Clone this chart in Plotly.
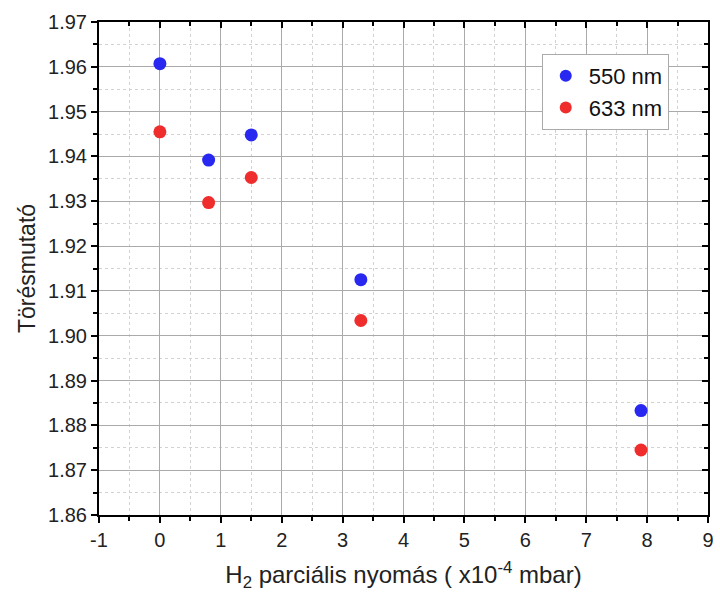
import plotly.graph_objects as go

x_vals = [0, 0.8, 1.5, 3.3, 7.9]
n550 = [1.9607, 1.9392, 1.9448, 1.9125, 1.8833]
n633 = [1.9455, 1.9297, 1.9353, 1.9034, 1.8745]
series_names = ["550 nm", "633 nm"]
x_ticks = list(range(-1, 10))
x_ticktext = [str(v) for v in x_ticks]
y_ticks = [round(1.86 + 0.01 * i, 2) for i in range(12)]
y_ticktext = [f"{v:.2f}" for v in y_ticks]

fig = go.Figure()
fig.add_trace(go.Scatter(x=x_vals, y=n550, mode="markers", name=series_names[0],
                         marker=dict(size=13, color="rgb(40,40,240)")))
fig.add_trace(go.Scatter(x=x_vals, y=n633, mode="markers", name=series_names[1],
                         marker=dict(size=13, color="rgb(240,45,45)")))

font = "Liberation Sans, Arial, sans-serif"
common = dict(showline=True, linecolor="black", linewidth=2, zeroline=False,
              ticklen=6, tickwidth=2, tickcolor="black",
              tickfont=dict(size=20, color="#222", family=font))

fig.update_layout(
    width=720, height=597,
    margin=dict(l=99, r=6, t=22, b=82),
    plot_bgcolor="white", paper_bgcolor="white",
    font=dict(family=font, color="#222"),
    xaxis=dict(range=[-1, 9], tickvals=x_ticks, ticktext=x_ticktext, ticks="outside",
               showgrid=True, gridcolor="#aaaaaa", gridwidth=1,
               minor=dict(dtick=0.5, ticks="outside", ticklen=4, tickwidth=2, tickcolor="black",
                          showgrid=True, gridcolor="#d2d2d2", griddash="3px,3px", gridwidth=1),
               title=dict(text="H<sub>2</sub> parciális nyomás ( x10<sup>-4</sup> mbar)",
                          font=dict(size=24, color="#222"), standoff=16),
               **common),
    yaxis=dict(range=[1.86, 1.97], tickvals=y_ticks, ticktext=y_ticktext, ticks="outside",
               showgrid=True, gridcolor="#aaaaaa", gridwidth=1,
               minor=dict(dtick=0.005, ticks="outside", ticklen=4, tickwidth=2, tickcolor="black",
                          showgrid=True, gridcolor="#d2d2d2", griddash="3px,3px", gridwidth=1),
               title=dict(text="Törésmutató", font=dict(size=23, color="#222"), standoff=6),
               **common),
    xaxis2=dict(overlaying="x", side="top", matches="x", range=[-1, 9], tickvals=x_ticks,
                ticks="inside", showticklabels=False, showgrid=False, zeroline=False,
                minor=dict(dtick=0.5, ticks="inside", ticklen=4, tickwidth=2, tickcolor="black",
                           showgrid=False),
                showline=True, linecolor="black", linewidth=2, ticklen=6, tickwidth=2, tickcolor="black"),
    yaxis2=dict(overlaying="y", side="right", matches="y", range=[1.86, 1.97], tickvals=y_ticks,
                ticks="inside", showticklabels=False, showgrid=False, zeroline=False,
                minor=dict(dtick=0.005, ticks="inside", ticklen=4, tickwidth=2, tickcolor="black",
                           showgrid=False),
                showline=True, linecolor="black", linewidth=2, ticklen=6, tickwidth=2, tickcolor="black"),
    legend=dict(x=0.727, y=0.935, xanchor="left", yanchor="top",
                bordercolor="#aaaaaa", borderwidth=1, bgcolor="white",
                font=dict(size=22, color="#111", family=font),
                itemsizing="constant", itemwidth=36, tracegroupgap=0),
    showlegend=True,
)
fig.add_trace(go.Scatter(x=[None], y=[None], xaxis="x2", yaxis="y2", showlegend=False, hoverinfo="skip"))

fig.write_html("out.html")
